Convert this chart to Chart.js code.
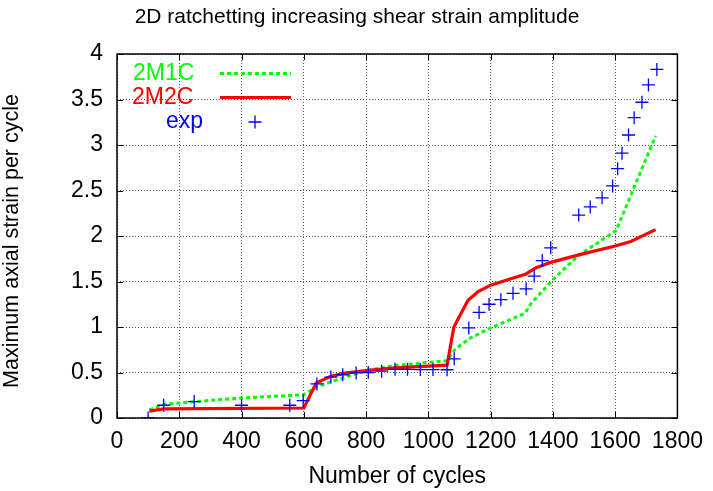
<!DOCTYPE html>
<html>
<head>
<meta charset="utf-8">
<script src="https://cdn.jsdelivr.net/npm/chart.js@4.4.1/dist/chart.umd.min.js"></script>
<style>
  html, body { margin: 0; padding: 0; background: #fff; }
</style>
</head>
<body>
<canvas id="ratchetChart" width="713" height="491"></canvas>
<script>
// Du lieu doc tu hinh
const m1cCycles = [104, 150, 250, 400, 600, 640, 690, 725, 800, 890, 1060, 1085, 1130, 1200, 1310, 1330, 1400, 1480, 1603, 1730];
const m1cStrain = [0.09, 0.15, 0.18, 0.22, 0.255, 0.34, 0.40, 0.44, 0.52, 0.575, 0.63, 0.75, 0.87, 0.99, 1.15, 1.26, 1.52, 1.78, 2.06, 3.1];

const m2cCycles = [104, 150, 600, 640, 685, 725, 800, 890, 1060, 1082, 1127, 1160, 1200, 1265, 1312, 1345, 1393, 1480, 1600, 1650, 1730];
const m2cStrain = [0.075, 0.10, 0.11, 0.385, 0.455, 0.49, 0.52, 0.55, 0.58, 1.0, 1.29, 1.39, 1.46, 1.53, 1.58, 1.65, 1.71, 1.79, 1.89, 1.94, 2.07];

const expCycles = [100, 150, 248, 400, 555, 598, 642, 687, 725, 768, 807, 850, 893, 933, 974, 1015, 1060, 1083, 1130, 1163, 1195, 1233, 1272, 1314, 1340, 1366, 1393, 1483, 1520, 1558, 1592, 1608, 1622, 1643, 1661, 1686, 1707, 1734];
const expStrain = [0.0, 0.14, 0.18, 0.14, 0.14, 0.19, 0.375, 0.45, 0.475, 0.495, 0.5, 0.515, 0.535, 0.535, 0.532, 0.532, 0.53, 0.65, 0.99, 1.16, 1.25, 1.30, 1.37, 1.42, 1.56, 1.73, 1.87, 2.23, 2.32, 2.42, 2.55, 2.74, 2.91, 3.11, 3.30, 3.47, 3.66, 3.83];

const xTickValues = [0, 200, 400, 600, 800, 1000, 1200, 1400, 1600, 1800];
const yTickValues = [0, 0.5, 1, 1.5, 2, 2.5, 3, 3.5, 4];

const GREEN = '#00ff00';
const RED = '#ff0000';
const BLUE = '#0000ff';
const FONT = 'Liberation Sans, Arial, Helvetica, sans-serif';

function toPoints(xs, ys) {
    return xs.map((x, i) => ({ x: x, y: ys[i] }));
}

// Khung, vach chia, tieu de va chu giai kieu gnuplot
const gnuplotFrame = {
    id: 'gnuplotFrame',
    afterDraw(chart) {
        const { ctx, chartArea: a, scales } = chart;
        ctx.save();

        ctx.strokeStyle = '#000';
        ctx.lineWidth = 1;
        ctx.beginPath();
        xTickValues.forEach(v => {
            const px = Math.round(scales.x.getPixelForValue(v)) + 0.5;
            ctx.moveTo(px, a.bottom); ctx.lineTo(px, a.bottom - 6);
            ctx.moveTo(px, a.top); ctx.lineTo(px, a.top + 6);
        });
        yTickValues.forEach(v => {
            const py = Math.round(scales.y.getPixelForValue(v)) + 0.5;
            ctx.moveTo(a.left, py); ctx.lineTo(a.left + 6, py);
            ctx.moveTo(a.right, py); ctx.lineTo(a.right - 6, py);
        });
        ctx.stroke();

        ctx.lineWidth = 1.5;
        ctx.strokeRect(a.left, a.top, a.right - a.left, a.bottom - a.top);

        // tieu de
        ctx.fillStyle = '#000';
        ctx.font = '21px ' + FONT;
        ctx.textAlign = 'center';
        ctx.textBaseline = 'middle';
        ctx.fillText('2D ratchetting increasing shear strain amplitude', 357, 17);

        // nhan truc y
        ctx.save();
        ctx.translate(12, 241);
        ctx.rotate(-Math.PI / 2);
        ctx.font = '21.5px ' + FONT;
        ctx.fillText('Maximum axial strain per cycle', 0, 0);
        ctx.restore();

        // chu giai
        ctx.font = '23px ' + FONT;
        ctx.textAlign = 'left';
        ctx.fillStyle = GREEN;
        ctx.fillText('2M1C', 133, 74);
        ctx.fillStyle = RED;
        ctx.fillText('2M2C', 132, 98);
        ctx.fillStyle = BLUE;
        ctx.fillText('exp', 166, 121.5);

        ctx.lineWidth = 3;
        ctx.strokeStyle = GREEN;
        ctx.setLineDash([4, 3]);
        ctx.beginPath(); ctx.moveTo(220, 73.5); ctx.lineTo(291, 73.5); ctx.stroke();
        ctx.setLineDash([]);
        ctx.strokeStyle = RED;
        ctx.beginPath(); ctx.moveTo(220, 97.5); ctx.lineTo(291, 97.5); ctx.stroke();
        ctx.lineWidth = 1.3;
        ctx.strokeStyle = BLUE;
        ctx.beginPath();
        ctx.moveTo(248.5, 122); ctx.lineTo(261.5, 122);
        ctx.moveTo(255, 115.5); ctx.lineTo(255, 128.5);
        ctx.stroke();

        ctx.restore();
    }
};

const ctx = document.getElementById('ratchetChart').getContext('2d');
new Chart(ctx, {
    type: 'scatter',
    data: {
        datasets: [
            {
                label: 'exp',
                data: toPoints(expCycles, expStrain),
                showLine: false,
                pointStyle: 'cross',
                pointRadius: 6.5,
                pointBorderWidth: 1.3,
                borderColor: BLUE,
                backgroundColor: BLUE,
                order: 0
            },
            {
                label: '2M2C',
                data: toPoints(m2cCycles, m2cStrain),
                showLine: true,
                borderColor: RED,
                borderWidth: 3.2,
                pointRadius: 0,
                order: 1
            },
            {
                label: '2M1C',
                data: toPoints(m1cCycles, m1cStrain),
                showLine: true,
                borderColor: GREEN,
                borderWidth: 3,
                borderDash: [4, 3],
                pointRadius: 0,
                order: 2
            }
        ]
    },
    options: {
        responsive: false,
        devicePixelRatio: 1,
        animation: false,
        layout: { padding: { top: 54, right: 32, left: 0, bottom: 0 } },
        plugins: {
            legend: { display: false },
            tooltip: { enabled: false },
            title: { display: false }
        },
        scales: {
            x: {
                type: 'linear',
                min: 0,
                max: 1800,
                afterFit: s => { s.height = 73; },
                afterBuildTicks: s => { s.ticks = xTickValues.map(v => ({ value: v })); },
                grid: { color: '#555', lineWidth: 1, drawTicks: false },
                border: { display: false, dash: [1, 2] },
                ticks: {
                    color: '#000',
                    padding: 10,
                    maxRotation: 0,
                    font: { family: FONT, size: 23 },
                    callback: v => String(v)
                },
                title: {
                    display: true,
                    text: 'Number of cycles',
                    color: '#000',
                    padding: { top: 0, bottom: 1 },
                    font: { family: FONT, size: 23 }
                }
            },
            y: {
                type: 'linear',
                min: 0,
                max: 4,
                afterFit: s => { s.width = 117; },
                afterBuildTicks: s => { s.ticks = yTickValues.map(v => ({ value: v })); },
                grid: { color: '#555', lineWidth: 1, drawTicks: false },
                border: { display: false, dash: [1, 2] },
                ticks: {
                    color: '#000',
                    padding: 14,
                    font: { family: FONT, size: 23 },
                    callback: v => String(v)
                },
                title: { display: false }
            }
        }
    },
    plugins: [gnuplotFrame]
});
</script>
</body>
</html>
